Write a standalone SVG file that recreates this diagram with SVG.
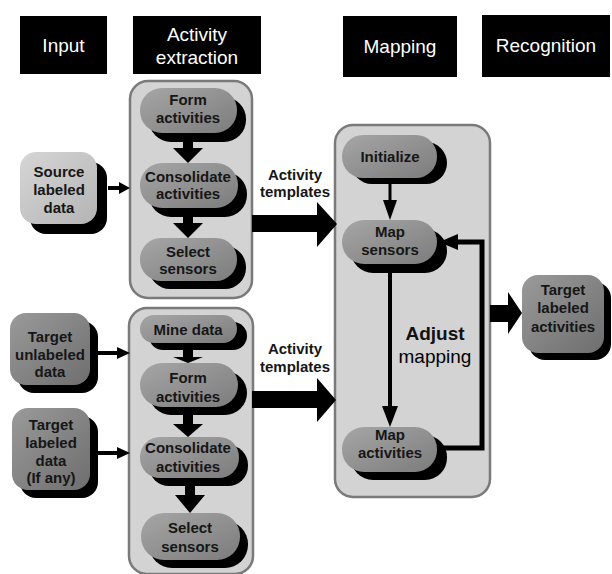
<svg xmlns="http://www.w3.org/2000/svg" width="612" height="574" viewBox="0 0 612 574">
<defs>
<linearGradient id="gPill" x1="0" y1="0" x2="1" y2="1">
<stop offset="0" stop-color="#a6a6a6"/><stop offset="1" stop-color="#7c7c7c"/>
</linearGradient>
<linearGradient id="gLight" x1="0" y1="0" x2="1" y2="1">
<stop offset="0" stop-color="#d6d6d6"/><stop offset="1" stop-color="#b4b4b4"/>
</linearGradient>
<linearGradient id="gDark" x1="0" y1="0" x2="1" y2="1">
<stop offset="0" stop-color="#9a9a9a"/><stop offset="1" stop-color="#6e6e6e"/>
</linearGradient>
<marker id="ah" viewBox="0 0 10 10" refX="10" refY="5" markerWidth="4" markerHeight="4" orient="auto" markerUnits="strokeWidth">
<path d="M0,0 L10,5 L0,10 z" fill="#000"/>
</marker>
</defs>
<style>
.hdr{fill:#000}
.ht{fill:#fff;font-family:"Liberation Sans",Arial,sans-serif;font-size:19px;text-anchor:middle}
.cont{fill:#d3d3d3;stroke:#7a7a7a;stroke-width:2.5}
.pill{fill:url(#gPill)}
.shd{fill:#000}
.light{fill:url(#gLight)}
.dark{fill:url(#gDark)}
.t{font-family:"Liberation Sans",Arial,sans-serif;font-size:15px;font-weight:bold;fill:#161616;text-anchor:middle}
.ln{stroke:#000;fill:none}
</style>
<rect width="612" height="574" fill="#fff"/>

<g id="headers">
<g id="h-input"><rect class="hdr" x="20" y="16" width="87" height="58"/><text class="ht" x="63.5" y="52">Input</text></g>
<g id="h-extraction"><rect class="hdr" x="133" y="16" width="128" height="58"/><text class="ht" x="197" y="41">Activity</text><text class="ht" x="197" y="64">extraction</text></g>
<g id="h-mapping"><rect class="hdr" x="343" y="16" width="114" height="61"/><text class="ht" x="400" y="53">Mapping</text></g>
<g id="h-recognition"><rect class="hdr" x="482" y="15" width="128" height="62"/><text class="ht" x="546" y="52">Recognition</text></g>
</g>

<g id="containers">
<rect id="c-extract-top" class="cont" x="130" y="81" width="122" height="217" rx="18"/>
<rect id="c-extract-bottom" class="cont" x="129" y="308" width="124" height="266" rx="18"/>
<rect id="c-mapping" class="cont" x="335" y="125" width="155" height="372" rx="18"/>
</g>

<g id="source-labeled">
<rect class="shd" x="30" y="162" width="77" height="72" rx="16"/>
<rect class="light" x="20" y="152" width="77" height="72" rx="16"/>
<text class="t" x="59" y="177">Source</text><text class="t" x="59" y="195">labeled</text><text class="t" x="59" y="213">data</text>
</g>
<g id="target-unlabeled">
<rect class="shd" x="18" y="321" width="80" height="72" rx="16"/>
<rect class="dark" x="10" y="313" width="80" height="72" rx="16"/>
<text class="t" x="50" y="342">Target</text><text class="t" x="50" y="360">unlabeled</text><text class="t" x="50" y="377">data</text>
</g>
<g id="target-labeled">
<rect class="shd" x="20" y="416" width="78" height="82" rx="16"/>
<rect class="dark" x="12" y="408" width="78" height="82" rx="16"/>
<text class="t" x="51" y="430">Target</text><text class="t" x="51" y="448">labeled</text><text class="t" x="51" y="466">data</text><text class="t" x="51" y="483">(If any)</text>
</g>
<g id="target-activities">
<rect class="shd" x="529" y="282" width="82" height="78" rx="16"/>
<rect class="dark" x="522" y="275" width="82" height="78" rx="16"/>
<text class="t" x="563" y="295">Target</text><text class="t" x="563" y="313">labeled</text><text class="t" x="563" y="332">activities</text>
</g>

<g id="top-form">
<rect class="shd" x="149" y="97" width="97" height="45" rx="22"/>
<rect class="pill" x="140" y="88" width="97" height="45" rx="22"/>
<text class="t" x="188" y="105">Form</text><text class="t" x="188" y="123">activities</text>
</g>
<g id="top-consolidate">
<rect class="shd" x="149" y="172" width="98" height="45" rx="22"/>
<rect class="pill" x="140" y="163" width="98" height="45" rx="22"/>
<text class="t" x="188" y="182">Consolidate</text><text class="t" x="188" y="199">activities</text>
</g>
<g id="top-select">
<rect class="shd" x="149" y="246" width="97" height="43" rx="21"/>
<rect class="pill" x="140" y="238" width="97" height="43" rx="21"/>
<text class="t" x="188" y="257">Select</text><text class="t" x="188" y="274">sensors</text>
</g>

<g id="bot-mine">
<rect class="shd" x="149" y="322" width="98" height="28" rx="14"/>
<rect class="pill" x="140" y="315" width="97" height="28" rx="14"/>
<text class="t" x="188" y="335">Mine data</text>
</g>
<g id="bot-form">
<rect class="shd" x="149" y="371" width="98" height="44" rx="22"/>
<rect class="pill" x="140" y="363" width="98" height="44" rx="22"/>
<text class="t" x="188" y="383">Form</text><text class="t" x="188" y="402">activities</text>
</g>
<g id="bot-consolidate">
<rect class="shd" x="149" y="445" width="99" height="41" rx="20"/>
<rect class="pill" x="140" y="437" width="99" height="41" rx="20"/>
<text class="t" x="188" y="453">Consolidate</text><text class="t" x="188" y="472">activities</text>
</g>
<g id="bot-select">
<rect class="shd" x="149" y="521" width="99" height="47" rx="23"/>
<rect class="pill" x="141" y="513" width="99" height="47" rx="23"/>
<text class="t" x="190" y="533">Select</text><text class="t" x="190" y="552">sensors</text>
</g>

<g id="map-initialize">
<rect class="shd" x="351" y="142" width="96" height="42" rx="21"/>
<rect class="pill" x="342" y="135" width="95" height="43" rx="21"/>
<text class="t" x="390" y="162">Initialize</text>
</g>
<g id="map-sensors">
<rect class="shd" x="351" y="229" width="96" height="44" rx="22"/>
<rect class="pill" x="342" y="220" width="95" height="44" rx="22"/>
<text class="t" x="390" y="237">Map</text><text class="t" x="390" y="255">sensors</text>
</g>
<g id="map-activities">
<rect class="shd" x="351" y="435" width="96" height="45" rx="22"/>
<rect class="pill" x="342" y="427" width="95" height="45" rx="22"/>
<text class="t" x="390" y="440">Map</text><text class="t" x="390" y="458">activities</text>
</g>

<g id="adjust-label">
<text x="435" y="340" font-family="Liberation Sans,Arial,sans-serif" font-size="19" font-weight="bold" fill="#111" text-anchor="middle">Adjust</text>
<text x="435" y="363" font-family="Liberation Sans,Arial,sans-serif" font-size="19" fill="#000" text-anchor="middle">mapping</text>
</g>
<g id="templates-labels">
<text class="t" x="295" y="180">Activity</text><text class="t" x="295" y="197">templates</text>
<text class="t" x="295" y="354">Activity</text><text class="t" x="295" y="372">templates</text>
</g>

<g id="connectors">
<!-- input arrows -->
<polygon points="108,186 119,186 119,182 130,188 119,194 119,190 108,190" fill="#000"/>
<polygon points="98,351 117,351 117,347 130,353 117,359 117,355 98,355" fill="#000"/>
<polygon points="98,451 117,451 117,447 130,453 117,459 117,455 98,455" fill="#000"/>
<!-- extraction down arrows -->
<polygon points="183,133 193,133 193,148 203,148 188,163 173,148 183,148" fill="#000"/>
<polygon points="183,208 193,208 193,223 203,223 188,238 173,223 183,223" fill="#000"/>
<polygon points="183,343 193,343 193,357 203,357 188,363 173,357 183,357" fill="#000"/>
<polygon points="183,407 193,407 193,424 203,424 188,437 173,424 183,424" fill="#000"/>
<polygon points="185,478 195,478 195,495 205,495 190,513 175,495 185,495" fill="#000"/>
<!-- template arrows -->
<polygon points="252,215 317,215 317,202 337,224 317,247 317,232 252,232" fill="#000"/>
<polygon points="252,391 317,391 317,378 336,400 317,422 317,408 252,408" fill="#000"/>
<!-- output arrow -->
<polygon points="490,305 508,305 508,292 522,313 508,334 508,322 490,322" fill="#000"/>
<!-- mapping arrows -->
<line class="ln" x1="390" y1="178" x2="390" y2="202" stroke-width="3"/>
<polygon points="383,200 397,200 390,220" fill="#000"/>
<line class="ln" x1="390" y1="264" x2="390" y2="409" stroke-width="4"/>
<polygon points="382,406 398,406 390,427" fill="#000"/>
<polyline class="ln" points="437,448 482,448 482,242 456,242" stroke-width="5"/>
<polygon points="458,234 458,250 439,242" fill="#000"/>
</g>
</svg>
